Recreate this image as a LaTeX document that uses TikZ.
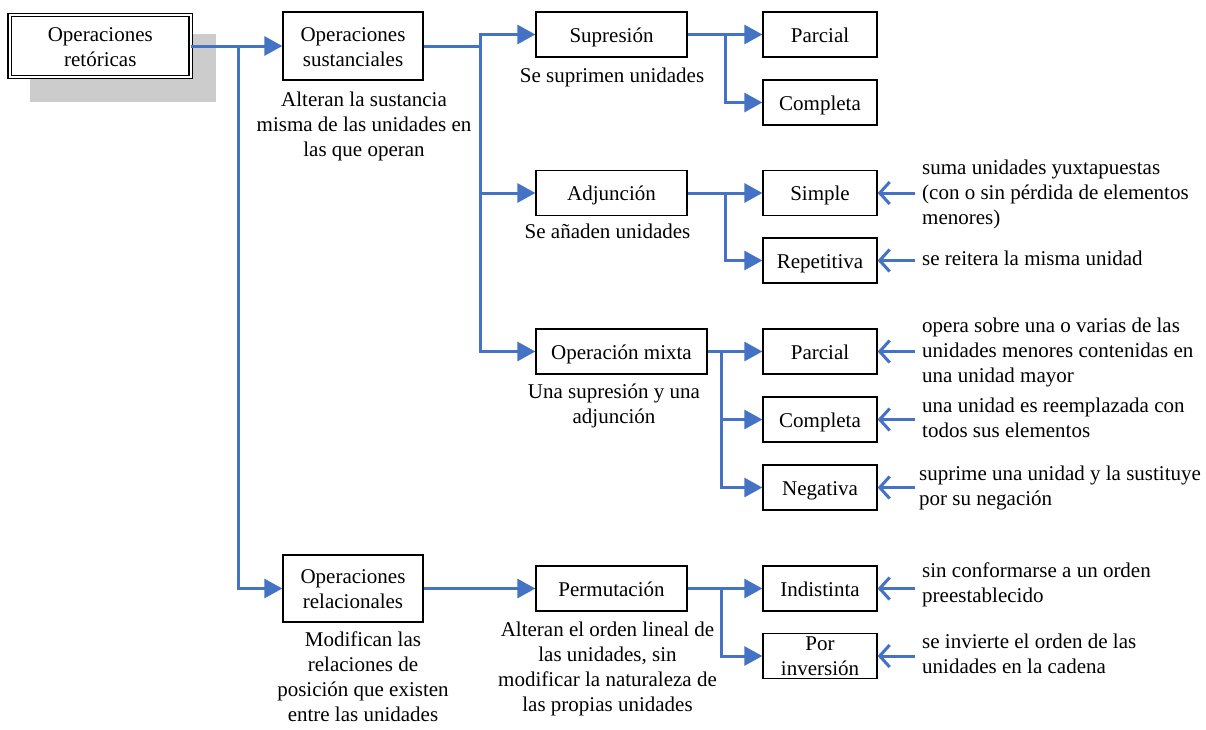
\documentclass[tikz,border=0pt]{standalone}
\usepackage{fontspec}
\setmainfont{Liberation Serif}
\usetikzlibrary{arrows.meta}
\definecolor{linkblue}{RGB}{68,114,196}
\definecolor{shadowgray}{RGB}{204,204,204}
\newcommand{\dfont}{\fontsize{21}{25}\selectfont}
\newcommand{\topstrut}{\rule{0pt}{22.5pt}}
\begin{document}
\begin{tikzpicture}[x=1pt,y=-1pt,
  box/.style={draw=black, line width=1.3pt, fill=white, inner sep=0pt, align=center, font=\dfont},
  leaf/.style={box, minimum width=114pt, minimum height=45pt},
  mid/.style={box, minimum width=151pt, minimum height=45pt},
  big/.style={box, minimum width=140pt, minimum height=68pt},
  lbl/.style={inner sep=0pt, align=center, font=\dfont},
  ann/.style={inner sep=0pt, align=left, anchor=west, font=\dfont},
  link/.style={draw=linkblue, line width=3pt, -{Triangle[length=18pt,width=19pt]}},
  back/.style={draw=linkblue, line width=3pt, -{Straight Barb[length=10pt,width=22pt]}},
]
\useasboundingbox (0,0) rectangle (1206,729);

% shadow of the root box
\fill[shadowgray] (30,34) rectangle (216,102);

% main boxes
\node[box, double, double distance=2.4pt, line width=1.2pt, minimum width=181pt, minimum height=62pt] (root) at (100.3,46) {\topstrut Operaciones\\retóricas\strut};
\node[big] (sust) at (353,46) {\topstrut Operaciones\\sustanciales\strut};
\node[big, minimum height=67pt] (rel) at (353,588.5) {\topstrut Operaciones\\relacionales\strut};

\node[mid] (sup) at (611.5,34.5) {\topstrut Supresión\strut};
\node[mid] (adj) at (611.5,193) {\topstrut Adjunción\strut};
\node[mid, minimum width=171pt] (mix) at (621.5,351.5) {\topstrut Operación mixta\strut};
\node[mid] (perm) at (611.5,588.5) {\topstrut Permutación\strut};

% leaves
\node[leaf] (sp) at (820,34.5) {\topstrut Parcial\strut};
\node[leaf] (sc) at (820,102.5) {\topstrut Completa\strut};
\node[leaf] (as) at (820,193) {\topstrut Simple\strut};
\node[leaf] (ar) at (820,260.5) {\topstrut Repetitiva\strut};
\node[leaf] (mp) at (820,351.5) {\topstrut Parcial\strut};
\node[leaf] (mc) at (820,419.5) {\topstrut Completa\strut};
\node[leaf] (mn) at (820,487.5) {\topstrut Negativa\strut};
\node[leaf] (pi) at (820,588.5) {\topstrut Indistinta\strut};
\node[leaf] (pv) at (820,656) {Por\\inversión};

% labels under boxes
\node[lbl] (sustL) at (364,126.5) {\strut Alteran la sustancia\\misma de las unidades en\\las que operan\strut};
\node[lbl] (supL) at (612,77) {\strut Se suprimen unidades\strut};
\node[lbl] (adjL) at (607.5,233) {\strut Se añaden unidades\strut};
\node[lbl] (mixL) at (614,406) {\strut Una supresión y una\\adjunción\strut};
\node[lbl] (relL) at (363,679) {\strut Modifican las\\relaciones de\\posición que existen\\entre las unidades\strut};
\node[lbl] (permL) at (607.5,668.5) {\strut Alteran el orden lineal de\\las unidades, sin\\modificar la naturaleza de\\las propias unidades\strut};

% annotations
\node[ann] (annS) at (922,194) {\strut suma unidades yuxtapuestas\\(con o sin pérdida de elementos\\menores)\strut};
\node[ann] (annR) at (922,260) {\strut se reitera la misma unidad\strut};
\node[ann] (annMP) at (922,352.5) {\strut opera sobre una o varias de las\\unidades menores contenidas en\\una unidad mayor\strut};
\node[ann] (annMC) at (922,419.5) {\strut una unidad es reemplazada con\\todos sus elementos\strut};
\node[ann] (annMN) at (919,487.5) {\strut suprime una unidad y la sustituye\\por su negación\strut};
\node[ann] (annI) at (922,585) {\strut sin conformarse a un orden\\preestablecido\strut};
\node[ann] (annV) at (922,655.5) {\strut se invierte el orden de las\\unidades en la cadena\strut};

% junction points
\coordinate (j1) at (238,46);
\coordinate (j2) at (480,46);
\coordinate (k1) at (725,34.5);
\coordinate (k2) at (725,193);
\coordinate (k3) at (721,351.5);
\coordinate (k4) at (721,588.5);

% connectors
\draw[link] (root.east) -- (sust.west);
\draw[link] (j1) |- (rel.west);
\draw[link] (sust.east) -- (j2) |- (sup.west);
\draw[link] (j2) |- (adj.west);
\draw[link] (j2) |- (mix.west);

\draw[link] (sup.east) -- (sp.west);
\draw[link] (k1) |- (sc.west);
\draw[link] (adj.east) -- (as.west);
\draw[link] (k2) |- (ar.west);
\draw[link] (mix.east) -- (mp.west);
\draw[link] (k3) |- (mc.west);
\draw[link] (k3) |- (mn.west);
\draw[link] (rel.east) -- (perm.west);
\draw[link] (perm.east) -- (pi.west);
\draw[link] (k4) |- (pv.west);

% annotation arrows
\coordinate (aS) at (915,193);
\coordinate (aR) at (915,260.5);
\coordinate (aMP) at (915,351.5);
\coordinate (aMC) at (915,419.5);
\coordinate (aMN) at (915,487.5);
\coordinate (aI) at (915,588.5);
\coordinate (aV) at (915,656);
\draw[back] (aS) -- (as.east);
\draw[back] (aR) -- (ar.east);
\draw[back] (aMP) -- (mp.east);
\draw[back] (aMC) -- (mc.east);
\draw[back] (aMN) -- (mn.east);
\draw[back] (aI) -- (pi.east);
\draw[back] (aV) -- (pv.east);
\end{tikzpicture}
\end{document}
